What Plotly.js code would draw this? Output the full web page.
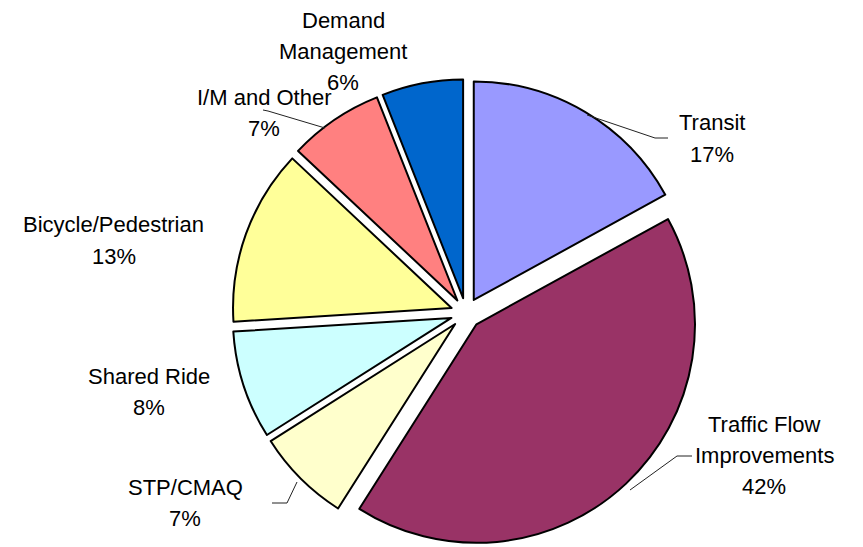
<!DOCTYPE html>
<html><head><meta charset="utf-8">
<script src="https://cdn.plot.ly/plotly-3.0.1.min.js"></script>
<style>html,body{margin:0;padding:0;background:#fff}#chart{width:863px;height:547px}</style>
</head><body><div id="chart"></div>
<script>
// Data
const categories = ["Transit", "Traffic Flow Improvements", "STP/CMAQ", "Shared Ride", "Bicycle/Pedestrian", "I/M and Other", "Demand Management"];
const shares = [17, 42, 7, 8, 13, 7, 6];
const labelLines = [["Transit", "17%"], ["Traffic Flow", "Improvements", "42%"], ["STP/CMAQ", "7%"], ["Shared Ride", "8%"], ["Bicycle/Pedestrian", "13%"], ["I/M and Other", "7%"], ["Demand", "Management", "6%"]];
const colors = ["#9999FF", "#993366", "#FFFFCC", "#CCFFFF", "#FFFF99", "#FF8080", "#0066CC"];

// Layout (label positions: centre x, top line y in px)
const labelPos = [[712, 123], [764, 424], [185, 487], [149, 376], [114, 225], [264, 97], [343, 20]];
const lineGap = 31;
const W = 863, H = 547;
const annotations = [];
labelLines.forEach((lines, i) => {
  lines.forEach((t, j) => {
    annotations.push({
      x: labelPos[i][0] / W, y: 1 - (labelPos[i][1] + j * lineGap) / H,
      xref: "paper", yref: "paper", text: t, showarrow: false,
      xanchor: "center", yanchor: "middle",
      font: {family: "Liberation Sans, Arial, sans-serif", size: 22, color: "#000"}
    });
  });
});
const leaders = [
  [[587,115],[655,138],[668,138]],
  [[630,490],[677,456],[692,456]],
  [[297,482],[287,503],[272,503]],
  [[325,128],[268,111],[263,110]]
];
const shapes = leaders.map(pts => ({
  type: "path", xref: "paper", yref: "paper",
  path: "M" + pts.map(p => (p[0] / W) + "," + (1 - p[1] / H)).join(" L"),
  line: {color: "#222", width: 1}
}));

const trace = {
  type: "pie", values: shares, labels: categories, sort: false,
  direction: "clockwise", rotation: 0,
  marker: {colors: colors, line: {color: "#000", width: 2}},
  pull: shares.map(() => 0.07),
  textinfo: "none", hoverinfo: "label+percent",
  domain: {x: [0.2688, 0.8111], y: [0.0, 0.855]}
};
Plotly.newPlot("chart", [trace], {
  width: W, height: H, margin: {l: 0, r: 0, t: 0, b: 0},
  paper_bgcolor: "#fff", showlegend: false,
  annotations: annotations, shapes: shapes
}, {staticPlot: true});
</script></body></html>
